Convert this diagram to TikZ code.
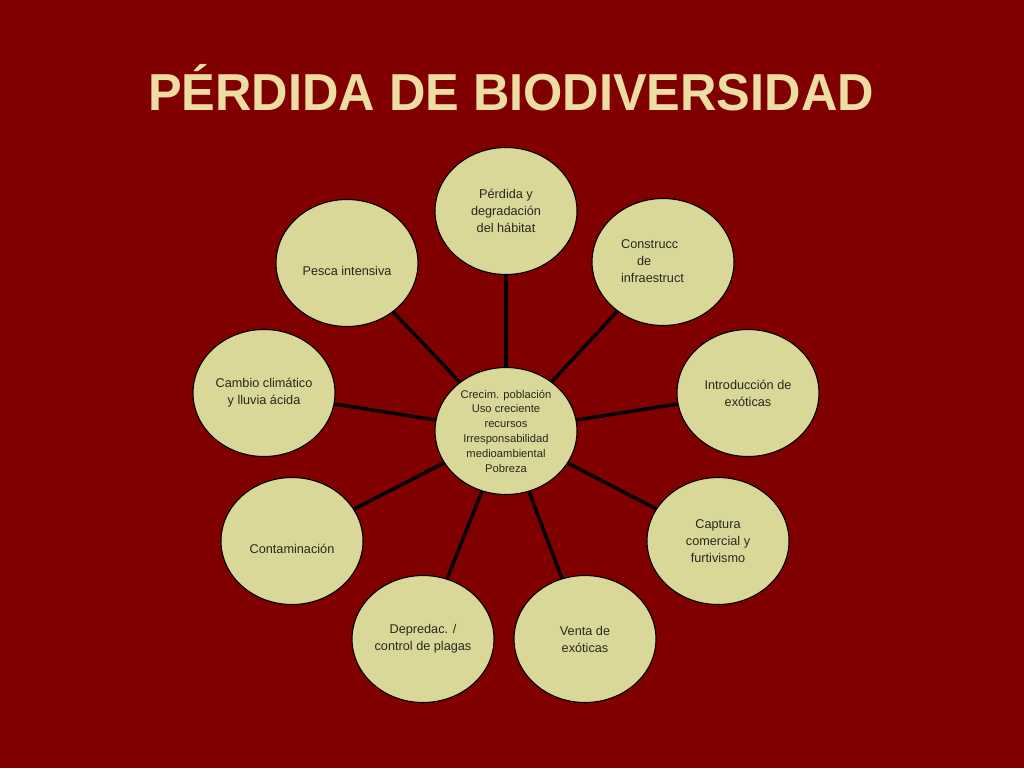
\documentclass[tikz,border=0pt]{standalone}
\usepackage{fontspec}
\setmainfont{Liberation Sans}
\usetikzlibrary{shapes.geometric}
\definecolor{fondo}{RGB}{128,0,0}
\definecolor{titulo}{RGB}{238,221,163}
\definecolor{burbuja}{RGB}{218,216,152}
\definecolor{letra}{RGB}{40,40,30}
\newcommand{\bajo}[1]{\raisebox{-12pt}[0pt][0pt]{#1}}

\begin{document}
\begin{tikzpicture}[x=1pt,y=-1pt,
    burb/.style={ellipse, draw=black, line width=1.1pt, fill=burbuja, text=letra,
        minimum width=142pt, minimum height=127pt, inner sep=0pt, align=center,
        font=\fontsize{12.7}{17}\selectfont},
    rayo/.style={line width=3.4pt, black}]
    \fill[fondo] (0,0) rectangle (1024,768);

    \node[anchor=base, text=titulo, font=\fontsize{52}{52}\bfseries] (tit) at (511,110) {\scalebox{0.97}[1]{PÉRDIDA DE BIODIVERSIDAD}};

    % causas
    \node[burb, font=\fontsize{11.2}{14.8}\selectfont] (crec) at (506,431) {Crecim. población\\Uso creciente\\recursos\\Irresponsabilidad\\medioambiental\\Pobreza};

    \node[burb] (hab) at (506,211) {Pérdida y\\degradación\\del hábitat};
    \node[burb] (infra) at (663,262) {\begin{tabular}{@{}l@{}}Construcc\\\hspace*{16pt}de\\infraestruct\end{tabular}\hspace*{21pt}};
    \node[burb] (intro) at (748,393) {Introducción de\\exóticas};
    \node[burb] (capt) at (718,541) {Captura\\comercial y\\furtivismo};
    \node[burb] (venta) at (585,639) {Venta de\\exóticas};
    \node[burb] (depr) at (423,639) {Depredac. /\\control de plagas};
    \node[burb] (cont) at (292,541) {\bajo{Contaminación}};
    \node[burb] (clima) at (264,393) {Cambio climático\\y lluvia ácida};
    \node[burb] (pesca) at (347,263) {\bajo{Pesca intensiva}};

    \foreach \n in {hab,infra,intro,capt,venta,depr,cont,clima,pesca}
        \draw[rayo] (crec) -- (\n);

\end{tikzpicture}
\end{document}
